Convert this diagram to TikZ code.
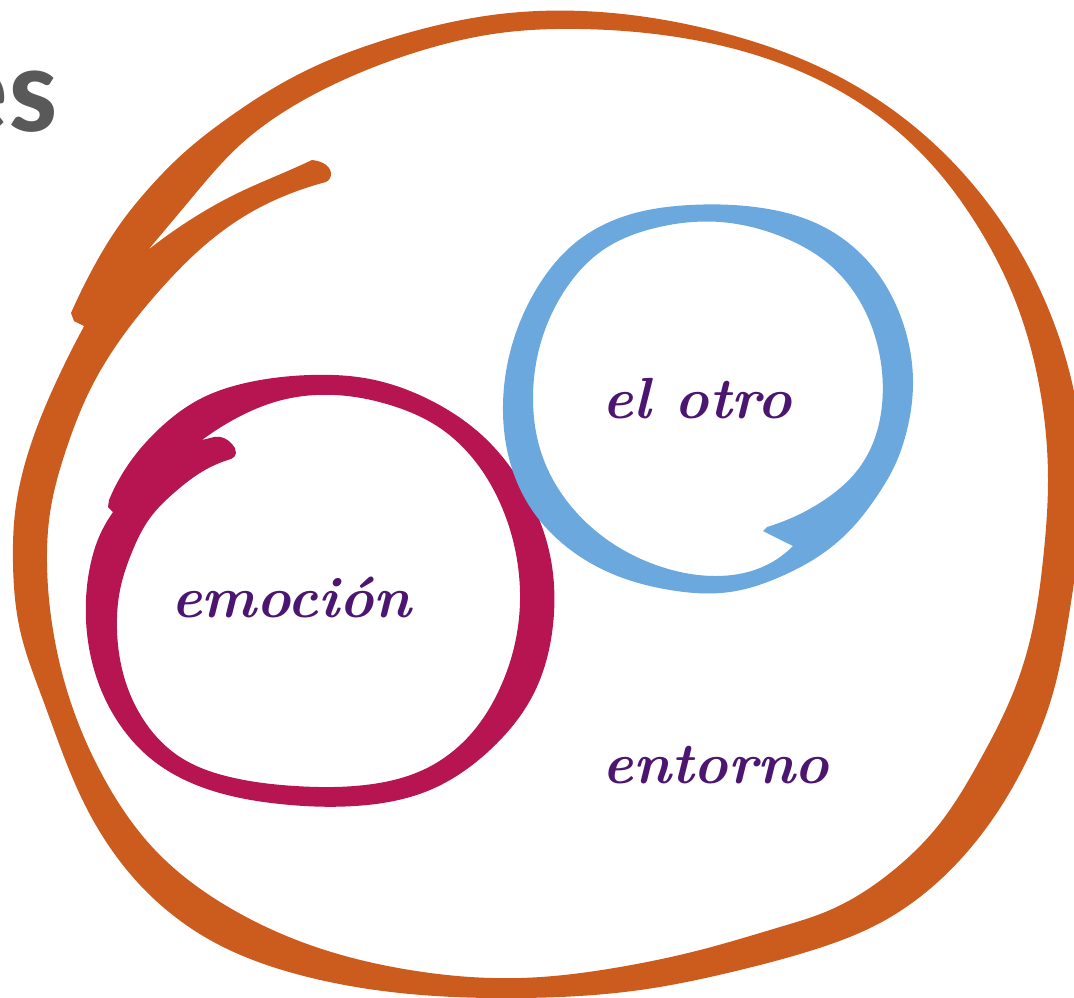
\documentclass[tikz,border=0pt]{standalone}
\usepackage{fontspec}
\usetikzlibrary{hobby}
\newfontfamily\esfont{Carlito}
\definecolor{orng}{RGB}{204,92,30}
\definecolor{crim}{RGB}{183,21,82}
\definecolor{blu}{RGB}{106,168,222}
\definecolor{purp}{RGB}{75,21,112}
\definecolor{gry}{RGB}{89,89,89}
\tikzset{
  lbl/.style={text=purp, inner sep=0pt, anchor=base, font=\fontsize{58}{58}\selectfont\bfseries\itshape},
}
\begin{document}
\begin{tikzpicture}[x=1pt,y=-1pt]
\useasboundingbox (0,0) rectangle (1074,997);
\clip (0,0) rectangle (1074,997);
% ---------- orange stroke ----------
\fill[orng,even odd rule] (84,326) -- (74,321) --
  plot[hobby] coordinates {(71,313) (92,270) (118,227) (150,187) (187,150) (228,118) (272,89) (320,64) (372,44) (430,27) (500,14) (600,12) (720,32) (830,72) (930,140) (1010,235) (1060,340) (1082,450) (1077,560) (1067,627) (1053,693) (1027,760) (987,827) (940,880) (880,923) (813,950) (740,970) (640,990) (520,998) (400,993) (300,975) (210,940) (140,885) (85,805) (43,700) (20,630) (13,563) (15,513) (30,447) (57,380) (82,330)}
  -- cycle
  plot[hobby] coordinates {(148,250) (190,200) (240,145) (290,108) (350,77) (420,51) (500,33) (580,29) (670,36) (765,58) (850,97) (920,152) (975,222) (1015,300) (1040,390) (1048,480) (1043,560) (1033,627) (1013,693) (980,760) (937,827) (890,873) (830,910) (780,927) (700,950) (620,967) (520,978) (410,970) (310,945) (225,905) (155,850) (105,780) (70,700) (53,630) (47,563) (50,513) (67,447) (90,390) (120,340) (160,290) (205,245) (255,210) (300,190) (326,182)}
  -- plot[hobby] coordinates {(326,182) (331,173) (323,163) (312,160)}
  -- plot[hobby] coordinates {(312,160) (290,170) (240,192) (190,220) (148,250)}
  -- cycle;
% ---------- crimson stroke ----------
\fill[crim,even odd rule] (113,512) -- (108,507) --
  plot[hobby] coordinates {(109,500) (130,462) (160,428) (200,399) (250,382) (310,375) (370,379) (430,400) (485,438) (525,490) (550,555) (553,625) (533,695) (490,750) (430,790) (355,806) (280,804) (210,790) (155,762) (118,722) (96,676) (86,620) (89,572) (99,537) (111,515)}
  -- cycle
  plot[hobby] coordinates {(202,440) (233,420) (282,400) (335,395) (390,405) (440,428) (478,465) (505,515) (519,575) (517,633) (500,688) (470,735) (425,769) (365,785) (295,786) (230,777) (180,757) (145,722) (125,680) (117,630) (120,590) (132,552) (150,518) (175,492) (205,470) (231,459)}
  -- plot[hobby] coordinates {(231,459) (236,453) (232,444) (224,438) (214,437)}
  -- (202,440) -- cycle;
% ---------- blue stroke ----------
\fill[blu,even odd rule]
  plot[closed hobby] coordinates {(913,385) (907,430) (895,465) (877,496) (853,527) (822,554) (782,576) (730,592) (670,590) (615,575) (568,548) (532,510) (510,462) (503,405) (512,345) (537,288) (575,243) (625,216) (690,205) (755,207) (820,225) (872,266) (902,320)}
  plot[hobby] coordinates {(767,527) (800,514) (830,496) (856,472) (873,443) (882,405) (880,357) (863,307) (830,265) (780,236) (720,222) (655,228) (603,250) (565,290) (541,342) (533,400) (542,455) (570,505) (615,545) (665,568) (715,576) (760,568) (793,546)}
  -- (763,531) -- cycle;
% ---------- texts ----------
\node[text=gry, inner sep=0pt, anchor=base east, font=\esfont\fontsize{123}{123}\selectfont\bfseries] (es) at (58,131) {es};
\node[lbl] (otro) at (697,418) {el otro};
\node[lbl] (emo) at (291,617) {emoción};
\node[lbl] (ent) at (716,783) {entorno};
\end{tikzpicture}
\end{document}
